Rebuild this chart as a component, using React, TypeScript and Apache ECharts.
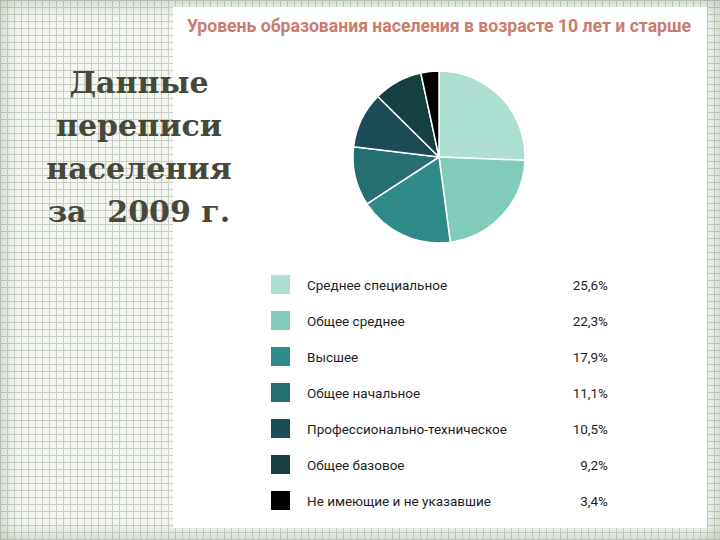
import React, { useEffect, useRef } from "react";
import * as echarts from "echarts";

const categories = [
  "Среднее специальное",
  "Общее среднее",
  "Высшее",
  "Общее начальное",
  "Профессионально-техническое",
  "Общее базовое",
  "Не имеющие и не указавшие",
];
const values = [25.6, 22.3, 17.9, 11.1, 10.5, 9.2, 3.4];
const colors = ["#acdfd2", "#80cbb9", "#2f8b88", "#266f71", "#1b4c55", "#163f42", "#000000"];
const titleText = "Уровень образования населения в возрасте 10 лет и старше";
const sideText = "Данные\nпереписи\nнаселения\nза  2009 г.";

const fmt = (v: number) => v.toFixed(1).replace(".", ",") + "%";

export default function App() {
  const ref = useRef<HTMLDivElement>(null);
  useEffect(() => {
    if (!ref.current) return;
    const chart = echarts.init(ref.current, null, { renderer: "svg" });
    const valueByName: Record<string, number> = {};
    categories.forEach((c, i) => (valueByName[c] = values[i]));
    chart.setOption({
      animation: false,
      backgroundColor: "transparent",
      graphic: [
        {
          type: "rect",
          z: -10,
          shape: { x: 173, y: 7, width: 534, height: 521 },
          style: { fill: "#ffffff" },
        },
        {
          type: "text",
          x: 139,
          y: 61,
          style: {
            text: sideText,
            align: "center",
            verticalAlign: "top",
            font: "bold 30px 'DejaVu Serif', serif",
            lineHeight: 43,
            fill: "#474838",
          },
        },
      ],
      title: {
        text: titleText,
        left: 182,
        top: 12,
        textStyle: {
          fontFamily: "Roboto",
          fontWeight: "bold",
          fontSize: 17.6,
          color: "#c97b6e",
        },
      },
      legend: {
        orient: "vertical",
        left: 271,
        top: 275,
        padding: 0,
        itemWidth: 19,
        itemHeight: 19,
        itemGap: 17,
        icon: "rect",
        itemStyle: { borderWidth: 0 },
        data: categories,
        formatter: (name: string) => `{n|${name}}{v|${fmt(valueByName[name])}}`,
        textStyle: {
          fontFamily: "Roboto",
          fontSize: 13,
          color: "#222222",
          rich: {
            n: { fontFamily: "Roboto", fontSize: 13.5, color: "#1e1e1e", width: 251, lineHeight: 19, padding: [0, 0, 0, 12] },
            v: { fontFamily: "Roboto", fontSize: 13.5, color: "#1e1e1e", width: 50, lineHeight: 19, align: "right" },
          },
        },
      },
      series: [
        {
          type: "pie",
          center: [439, 157],
          radius: 86,
          startAngle: 90,
          clockwise: true,
          label: { show: false },
          labelLine: { show: false },
          itemStyle: { borderColor: "#ffffff", borderWidth: 1.5 },
          emphasis: { disabled: true },
          data: categories.map((c, i) => ({
            name: c,
            value: values[i],
            itemStyle: { color: colors[i] },
          })),
        },
      ],
    });
    return () => chart.dispose();
  }, []);
  return (
    <div
      style={{
        position: "fixed",
        left: 0,
        top: 0,
        width: 720,
        height: 540,
        backgroundColor: "#f4f6f2",
        backgroundImage:
          "linear-gradient(#c9cec7 1px, transparent 1px), linear-gradient(90deg, #c9cec7 1px, transparent 1px)",
        backgroundSize: "7px 7px",
        boxShadow: "inset 0 0 22px rgba(110,135,105,0.45)",
      }}
    >
      <div ref={ref} style={{ width: 720, height: 540 }} />
    </div>
  );
}
